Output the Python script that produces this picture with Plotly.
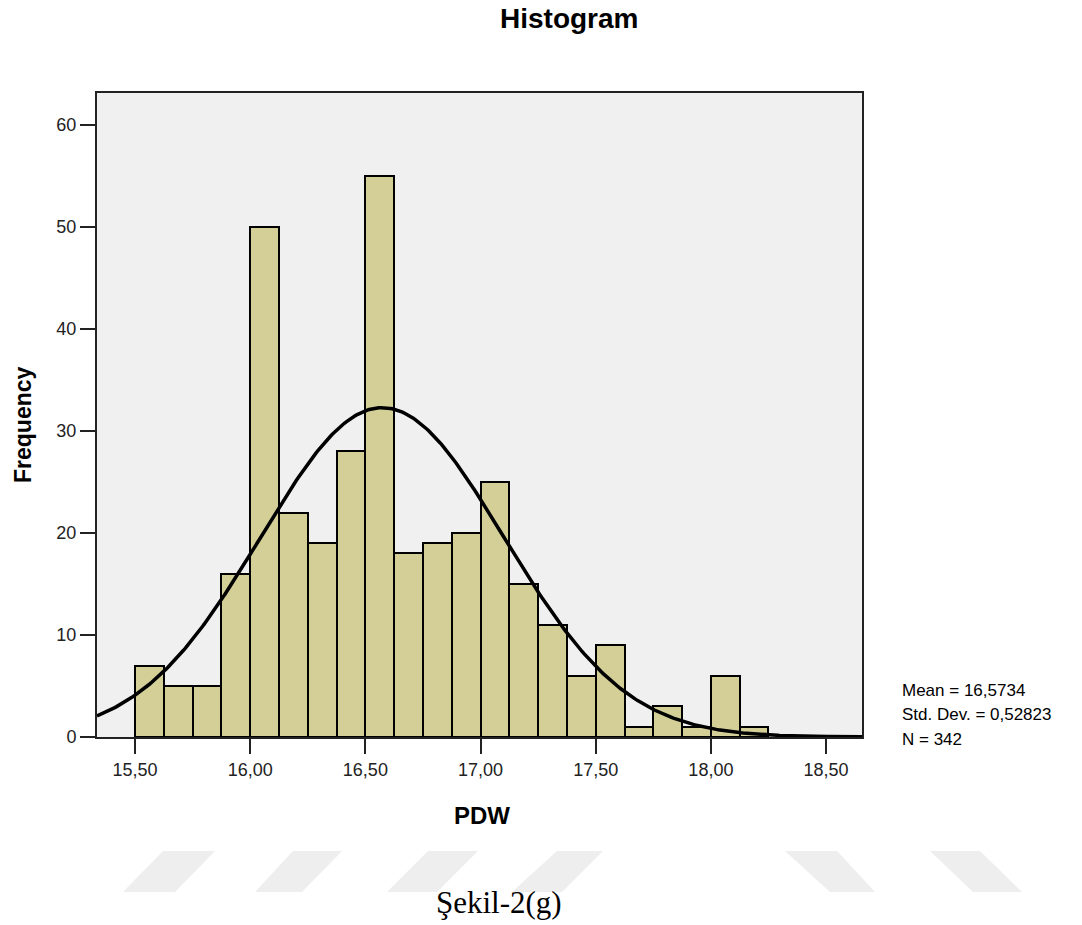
import numpy as np
import plotly.graph_objects as go

# ---- data ----
bin_start = 15.5
bin_width = 0.125
frequencies = [7, 5, 5, 16, 50, 22, 19, 28, 55, 18, 19, 20, 25, 15, 11, 6, 9, 1, 3, 1, 6, 1]
mean_val = 16.5734
std_val = 0.52823
n_val = 342
x_tickvals = [15.5, 16.0, 16.5, 17.0, 17.5, 18.0, 18.5]
x_ticktext = ["15,50", "16,00", "16,50", "17,00", "17,50", "18,00", "18,50"]
y_tickvals = [0, 10, 20, 30, 40, 50, 60]
stats_lines = ["Mean = 16,5734", "Std. Dev. = 0,52823", "N = 342"]

W, H = 1082, 925
L, R, T, B = 97, 862, 93, 737
xr = [15.335, 18.656]
yr = [0, 63.14]

centers = [bin_start + bin_width * (i + 0.5) for i in range(len(frequencies))]

xs = np.linspace(xr[0], xr[1], 400)
ys = n_val * bin_width / (std_val * np.sqrt(2 * np.pi)) * np.exp(-0.5 * ((xs - mean_val) / std_val) ** 2)

def px(x):
    return (x - L) / (R - L)

def py(y):
    return (B - y) / (B - T)

FONT = "Arial, Liberation Sans, sans-serif"

fig = go.Figure()
fig.add_trace(go.Bar(
    x=centers, y=frequencies, width=bin_width,
    marker=dict(color="#D3CF97", line=dict(color="black", width=2)),
    hoverinfo="x+y", showlegend=False,
))
fig.add_trace(go.Scatter(
    x=xs, y=ys, mode="lines", line=dict(color="black", width=3.5),
    showlegend=False, hoverinfo="skip",
))

annotations = [
    dict(text="<b>Histogram</b>", x=px(569), y=py(18), xref="paper", yref="paper",
         showarrow=False, font=dict(family=FONT, size=28, color="black"), xanchor="center", yanchor="middle"),
    dict(text="<b>PDW</b>", x=px(482), y=py(815), xref="paper", yref="paper",
         showarrow=False, font=dict(family=FONT, size=24, color="black"), xanchor="center", yanchor="middle"),
    dict(text="<b>Frequency</b>", x=px(23), y=py(425), xref="paper", yref="paper", textangle=-90,
         showarrow=False, font=dict(family=FONT, size=23, color="black"), xanchor="center", yanchor="middle"),
    dict(text="Şekil-2(g)", x=px(499), y=py(903), xref="paper", yref="paper",
         showarrow=False, font=dict(family="Liberation Serif, Times New Roman, serif", size=31, color="black"),
         xanchor="center", yanchor="middle"),
]
for t, yy in zip(stats_lines, [690, 714, 739]):
    annotations.append(dict(text=t, x=px(900), y=py(yy), xref="paper", yref="paper",
                            showarrow=False, font=dict(family=FONT, size=17, color="black"),
                            xanchor="left", yanchor="middle"))

# light watermark parallelograms (pixel coords: top-left, top-right, bottom-right, bottom-left)
wm = [
    (163, 215, 175, 123), (293, 342, 302, 255), (428, 478, 437, 387), (557, 603, 562, 512),
    (785, 837, 875, 830), (930, 980, 1022, 973),
]
shapes = []
for tl, tr, br, bl in wm:
    path = "M {} {} L {} {} L {} {} L {} {} Z".format(
        px(tl), py(851), px(tr), py(851), px(br), py(892), px(bl), py(892))
    shapes.append(dict(type="path", path=path, xref="paper", yref="paper",
                       fillcolor="#EEEEEE", line=dict(width=0), layer="below"))

fig.update_layout(
    width=W, height=H,
    margin=dict(l=L, r=W - R, t=T, b=H - B, pad=0),
    paper_bgcolor="white", plot_bgcolor="#F0F0F0",
    bargap=0, showlegend=False,
    annotations=annotations, shapes=shapes,
    font=dict(family=FONT, size=18, color="black"),
    xaxis=dict(range=xr, tickvals=x_tickvals, ticktext=x_ticktext, ticks="outside", ticklen=15,
               tickwidth=2, tickcolor="#222", showline=True, linecolor="#222", linewidth=2, mirror=True,
               showgrid=False, zeroline=False, tickfont=dict(family=FONT, size=18, color="#222")),
    yaxis=dict(range=yr, tickvals=y_tickvals, ticks="outside", ticklen=15, tickwidth=2, tickcolor="#222",
               showline=True, linecolor="#222", linewidth=2, mirror=True, showgrid=False, zeroline=False,
               tickfont=dict(family=FONT, size=18, color="#222")),
)

fig.write_html("out.html")
